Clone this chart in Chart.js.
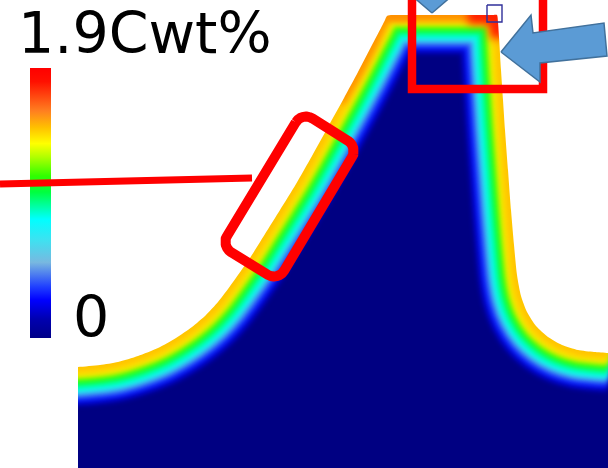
<!DOCTYPE html>
<html><head><meta charset="utf-8">
<script src="https://cdn.jsdelivr.net/npm/chart.js@4.4.1/dist/chart.umd.min.js"></script>
<style>html,body{margin:0;padding:0;background:#fff;overflow:hidden}#wrap{width:608px;height:468px;position:relative}</style>
</head><body><div id="wrap"><canvas id="c" width="608" height="468"></canvas></div>
<script>
// ---------------- DATA ----------------
// Outer surface of the gear tooth (x, y in picture units, y downward)
const toothX = [40,78,100,118,138,158,176,192,206,218,228,238,250,265,280,296,312,328,344,358,372,381,385,387,392,440,492,497,498,499,501,503,505,508,511,514,517,521,527,536,548,562,578,594,608,640];
const toothY = [368,367,365,362,356,348,338,327,315,302,289,275,258,234,210,184,156,127,98,72,45,28,20,16,15,15,15,15,22,37,70,100,130,170,210,245,275,296,312,326,337,345,350,352,353,353];
// Colour-bar extent and its tick labels
const barX = [40.5, 40.5];
const barY = [68, 338];
const barLabels = ['1.9Cwt%', '0'];
const barLabelX = [18, 73];
const barLabelY = [53, 337];
// Carbon-rich tip (top land) highlights
const tipTopX = [387, 440, 497];
const tipTopY = [15, 15, 15];
const tipRedX = [468, 497, 499];
const tipRedY = [15, 15, 38];
const tipLeftX = [340, 358, 372, 387, 412];
const tipLeftY = [102, 72, 45, 16, 15];
// Annotation: rounded frame on the flank (corners) and its leader line
const frameCornerX = [302, 358, 278, 221];
const frameCornerY = [112, 147, 281, 246];
const leaderX = [0, 252];
const leaderY = [184, 178];
// Annotation: frame round the tip
const tipFrameX = [412, 412, 543, 543];
const tipFrameY = [-10, 89, 89, -10];
// Annotation: arrows and small square
const arrowRightX = [501, 531, 533, 604, 607, 540, 540, 501];
const arrowRightY = [52, 15, 33, 23, 56, 63, 82, 52];
const arrowTopX = [432, 404, 460, 432];
const arrowTopY = [13, -11, -11, 13];
const squareX = [487, 502, 502, 487, 487];
const squareY = [5, 5, 22, 22, 5];

// ---------------- STYLE ----------------
const bandHalfWidths = [39, 35, 31, 27, 24, 20, 16, 12, 9, 5];
const bandColors = ['#0000c0', '#0a1eff', '#3f7cf2', '#35d8f5', '#00ffe0', '#00ff70', '#30ff10', '#c8f500', '#ffe000', '#ffc400'];
const frameRadius = 12;

function pts(xs, ys) { return xs.map((x, i) => ({ x: x, y: ys[i] })); }
const tooth = pts(toothX, toothY);

// rounded outline through the given corners (geometry of the annotation frame)
function roundedFrame(xs, ys, r) {
  const out = [];
  const n = xs.length;
  for (let i = 0; i < n; i++) {
    const p = { x: xs[i], y: ys[i] };
    const a = { x: xs[(i + n - 1) % n], y: ys[(i + n - 1) % n] };
    const b = { x: xs[(i + 1) % n], y: ys[(i + 1) % n] };
    const la = Math.hypot(a.x - p.x, a.y - p.y), lb = Math.hypot(b.x - p.x, b.y - p.y);
    const ua = { x: (a.x - p.x) / la, y: (a.y - p.y) / la };
    const ub = { x: (b.x - p.x) / lb, y: (b.y - p.y) / lb };
    const c = { x: p.x + (ua.x + ub.x) * r, y: p.y + (ua.y + ub.y) * r };
    for (let k = 0; k <= 6; k++) {
      const t = k / 6 * Math.PI / 2;
      out.push({ x: c.x - ub.x * r * Math.cos(t) - ua.x * r * Math.sin(t),
                 y: c.y - ub.y * r * Math.cos(t) - ua.y * r * Math.sin(t) });
    }
  }
  out.push(out[0]);
  return out;
}

function barGradient(ctx) {
  const chart = ctx.chart;
  const ys = chart.scales && chart.scales.y;
  if (!chart.chartArea || !ys) return '#ff0000';
  const y0 = ys.getPixelForValue(barY[0]), y1 = ys.getPixelForValue(barY[1]);
  if (!isFinite(y0) || !isFinite(y1)) return '#ff0000';
  const g = chart.ctx.createLinearGradient(0, y0, 0, y1);
  g.addColorStop(0.00, '#ff0000'); g.addColorStop(0.05, '#ff1000'); g.addColorStop(0.16, '#ff8020');
  g.addColorStop(0.22, '#ffc000'); g.addColorStop(0.28, '#ffff00'); g.addColorStop(0.33, '#b0ff00');
  g.addColorStop(0.40, '#30ff00'); g.addColorStop(0.46, '#00ff40'); g.addColorStop(0.56, '#00ffff');
  g.addColorStop(0.64, '#40e0f0'); g.addColorStop(0.72, '#78b8e0'); g.addColorStop(0.81, '#2040ff');
  g.addColorStop(0.86, '#0000ff'); g.addColorStop(0.93, '#0000b0'); g.addColorStop(1.00, '#000088');
  return g;
}

const datasets = [];
// interior (navy)
datasets.push({ data: tooth, fill: { value: 540 }, backgroundColor: '#000082', borderWidth: 0, order: 100, tension: 0.2 });
// carburised layer
bandHalfWidths.forEach((w, i) => {
  datasets.push({ data: tooth, fill: false, borderColor: bandColors[i], borderWidth: 2 * w, borderJoinStyle: 'round', tension: 0.2, order: 90 - i, blur: 2.8 });
});
datasets.push({ data: pts(tipLeftX, tipLeftY), fill: false, borderColor: 'rgba(255,130,0,0.75)', borderWidth: 10, borderJoinStyle: 'round', tension: 0.2, order: 62, blur: 3 });
datasets.push({ data: pts(tipTopX, tipTopY), fill: false, borderColor: '#ff9000', borderWidth: 12, order: 61, blur: 3 });
datasets.push({ data: pts(tipRedX, tipRedY), fill: false, borderColor: '#ff2000', borderWidth: 18, borderJoinStyle: 'round', order: 60, blur: 4 });
// white outside the part
datasets.push({ data: tooth, fill: { value: -30 }, backgroundColor: '#ffffff', borderWidth: 0, order: 50, tension: 0.2 });
datasets.push({ data: pts([-10, 78, 78, -10, -10], [-10, -10, 500, 500, -10]), fill: 'shape', backgroundColor: '#ffffff', borderWidth: 0, order: 49 });
// colour bar
datasets.push({ data: pts(barX, barY), fill: false, borderWidth: 21, borderCapStyle: 'butt', order: 40, borderColor: barGradient });
// annotations
datasets.push({ data: pts(leaderX, leaderY), fill: false, borderColor: '#ff0000', borderWidth: 7, order: 30 });
datasets.push({ data: roundedFrame(frameCornerX, frameCornerY, frameRadius), fill: false, borderColor: '#ff0000', borderWidth: 10, borderJoinStyle: 'round', order: 29 });
datasets.push({ data: pts(tipFrameX, tipFrameY), fill: false, borderColor: '#ff0000', borderWidth: 8.5, borderJoinStyle: 'miter', order: 28 });
datasets.push({ data: pts(arrowRightX, arrowRightY), fill: 'shape', backgroundColor: '#5b9bd5', borderColor: '#41719c', borderWidth: 1.5, borderJoinStyle: 'miter', order: 20 });
datasets.push({ data: pts(arrowTopX, arrowTopY), fill: 'shape', backgroundColor: '#5b9bd5', borderColor: '#41719c', borderWidth: 1.5, order: 19 });
datasets.push({ data: pts(squareX, squareY), fill: false, borderColor: '#30309a', borderWidth: 1.4, order: 10 });

const blurPlugin = {
  id: 'blurPlugin',
  beforeDatasetDraw(chart, args) {
    const ds = chart.data.datasets[args.index];
    if (ds.blur) { chart.ctx.save(); chart.ctx.filter = 'blur(' + ds.blur + 'px)'; }
  },
  afterDatasetDraw(chart, args) {
    const ds = chart.data.datasets[args.index];
    if (ds.blur) { chart.ctx.restore(); }
  }
};
const labelPlugin = {
  id: 'barLabels',
  afterDatasetsDraw(chart) {
    const ctx = chart.ctx, xs = chart.scales.x, ys = chart.scales.y;
    ctx.save();
    ctx.fillStyle = '#000000';
    ctx.font = '57px "DejaVu Sans", Verdana, sans-serif';
    ctx.textAlign = 'left';
    ctx.textBaseline = 'alphabetic';
    barLabels.forEach((t, i) => ctx.fillText(t, xs.getPixelForValue(barLabelX[i]), ys.getPixelForValue(barLabelY[i])));
    ctx.restore();
  }
};

new Chart(document.getElementById('c'), {
  type: 'scatter',
  data: { datasets: datasets.map(d => Object.assign({ showLine: true, pointRadius: 0, pointHoverRadius: 0, clip: false }, d)) },
  options: {
    responsive: false, animation: false,
    layout: { padding: 0 },
    plugins: { legend: { display: false }, tooltip: { enabled: false } },
    scales: {
      x: { type: 'linear', min: 0, max: 608, display: false },
      y: { type: 'linear', min: 0, max: 468, reverse: true, display: false }
    }
  },
  plugins: [blurPlugin, labelPlugin]
});
</script></body></html>
